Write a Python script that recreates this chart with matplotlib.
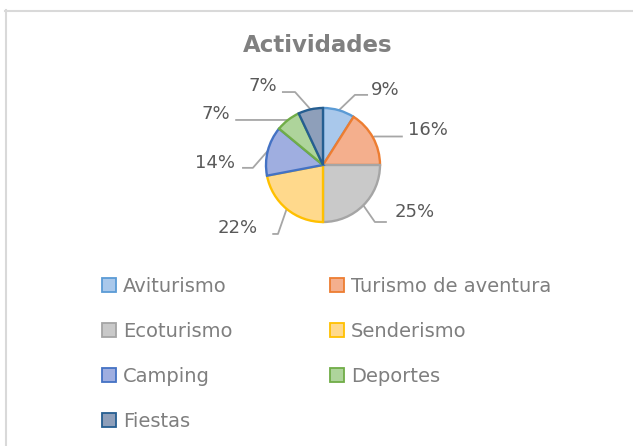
import matplotlib
matplotlib.use("Agg")
import matplotlib.pyplot as plt
import numpy as np
from matplotlib.patches import Rectangle
from matplotlib.lines import Line2D

categorias = ["Aviturismo", "Turismo de aventura", "Ecoturismo", "Senderismo",
              "Camping", "Deportes", "Fiestas"]
porcentajes = [9, 16, 25, 22, 14, 7, 7]
titulo = "Actividades"

relleno = ["#A9C8EB", "#F4AF8D", "#C9C9C9", "#FFD98C", "#9FAEE0", "#AED49B", "#8E9FBA"]
borde = ["#5B9BD5", "#ED7D31", "#A5A5A5", "#FFC000", "#4472C4", "#70AD47", "#255E91"]

# leader lines (elbow, end) and label anchor, in pie-radius units
guias = [
    ((0.56, 1.23), (0.79, 1.23), (0.84, 1.32), "left"),
    ((0.90, 0.50), (1.40, 0.50), (1.49, 0.61), "left"),
    ((0.91, -1.00), (1.12, -1.00), (1.25, -0.82), "left"),
    ((-0.79, -1.21), (-0.89, -1.21), (-1.14, -1.11), "right"),
    ((-1.23, -0.05), (-1.42, -0.05), (-1.54, 0.04), "right"),
    ((-0.64, 0.79), (-1.54, 0.79), (-1.63, 0.89), "right"),
    ((-0.49, 1.28), (-0.72, 1.28), (-0.81, 1.39), "right"),
]

W, H = 633, 446


def fx(px):
    return px / W


def fy(py):
    return 1 - py / H


fig = plt.figure(figsize=(W / 100, H / 100), dpi=100)

# chart frame (only top and left edges visible)
fig.add_artist(Line2D([fx(5), fx(633)], [fy(10.5), fy(10.5)], color="#D9D9D9", lw=1.5))
fig.add_artist(Line2D([fx(5.5), fx(5.5)], [fy(10), fy(446)], color="#D9D9D9", lw=1.5))

fig.text(fx(318), fy(52), titulo, ha="center", va="baseline", fontsize=16.5,
         fontweight="bold", color="#808080")

R = 57
cx, cy = 323, 165
ax = fig.add_axes([fx(cx - 3 * R), fy(cy + 2 * R), 6 * R / W, 4 * R / H])
wedges, _ = ax.pie(porcentajes, colors=relleno, startangle=90, counterclock=False,
                   radius=1, wedgeprops=dict(linewidth=1.7))
for w, c in zip(wedges, borde):
    w.set_edgecolor(c)
ax.set_xlim(-3, 3)
ax.set_ylim(-2, 2)
ax.axis("off")

total = sum(porcentajes)
acum = 0
for v, (codo, fin, txt, ha) in zip(porcentajes, guias):
    mid = np.deg2rad(90 - (acum + v / 2) / total * 360)
    acum += v
    x0, y0 = np.cos(mid), np.sin(mid)
    ax.plot([x0, codo[0], fin[0]], [y0, codo[1], fin[1]], color="#A6A6A6", lw=1.3,
            solid_capstyle="butt", zorder=0)
    ax.text(txt[0], txt[1], f"{round(v / total * 100)}%", ha=ha, va="center",
            fontsize=13, color="#595959")

# legend, two columns
col_x = [102, 330]
fila_y = 292
for i, (cat, f, b) in enumerate(zip(categorias, relleno, borde)):
    x = col_x[i % 2]
    y = fila_y + 45 * (i // 2)
    fig.add_artist(Rectangle((fx(x), fy(y)), 14 / W, 14 / H, facecolor=f,
                             edgecolor=b, lw=1.3, transform=fig.transFigure))
    fig.text(fx(x + 21), fy(y), cat, ha="left", va="baseline", fontsize=14,
             color="#7F7F7F")

fig.savefig("out.png", dpi=100)
